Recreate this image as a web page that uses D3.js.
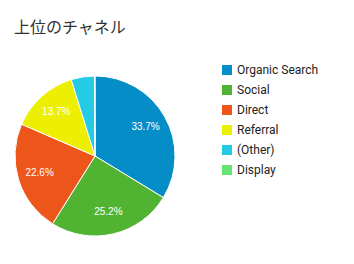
<!DOCTYPE html>
<html>
<head>
<meta charset="utf-8">
<script src="https://cdn.jsdelivr.net/npm/d3@7"></script>
<style>
  body { margin: 0; background: #fff; }
  svg { display: block; }
</style>
</head>
<body>
<svg id="chart" width="354" height="264"></svg>
<script>
const channels = ["Organic Search", "Social", "Direct", "Referral", "(Other)", "Display"];
const shares = [33.7, 25.2, 22.6, 13.7, 4.7, 0.1];
const colors = ["#058dc7", "#50b432", "#ed561b", "#edef00", "#24cbe5", "#64e572"];

const svg = d3.select("#chart");

svg.append("text")
  .attr("x", 14)
  .attr("y", 33)
  .attr("font-family", "'Noto Sans CJK JP', sans-serif")
  .attr("font-size", 16)
  .attr("fill", "#333")
  .text("上位のチャネル");

const cx = 95, cy = 156, radius = 80;
const data = channels.map((c, i) => ({ name: c, value: shares[i], color: colors[i] }));

const pie = d3.pie().sort(null).value(d => d.value);
const arc = d3.arc().innerRadius(0).outerRadius(radius);
const labelArc = d3.arc().innerRadius(radius * 0.45).outerRadius(radius);

const g = svg.append("g").attr("transform", `translate(${cx},${cy})`);
const arcs = pie(data);

g.selectAll("path.slice")
  .data(arcs)
  .enter()
  .append("path")
  .attr("class", "slice")
  .attr("d", arc)
  .attr("fill", d => d.data.color)
  .attr("stroke", "#fff")
  .attr("stroke-width", 1);

g.selectAll("text.pct")
  .data(arcs.filter(d => d.data.value >= 5))
  .enter()
  .append("text")
  .attr("class", "pct")
  .attr("transform", d => `translate(${labelArc.centroid(d)})`)
  .attr("text-anchor", "middle")
  .attr("dominant-baseline", "middle")
  .attr("font-family", "Arial, 'Liberation Sans', sans-serif")
  .attr("font-size", 10)
  .attr("fill", "#fff")
  .text(d => d.data.value.toFixed(1) + "%");

// legend
const legend = svg.append("g").attr("transform", "translate(222,70)");
const rows = legend.selectAll("g.item")
  .data(data)
  .enter()
  .append("g")
  .attr("class", "item")
  .attr("transform", (d, i) => `translate(0,${i * 20})`);

rows.append("rect")
  .attr("x", 0)
  .attr("y", -5)
  .attr("width", 10)
  .attr("height", 10)
  .attr("fill", d => d.color);

rows.append("text")
  .attr("x", 15)
  .attr("y", 0)
  .attr("dominant-baseline", "central")
  .attr("font-family", "Roboto, sans-serif")
  .attr("font-size", 12)
  .attr("fill", "#222")
  .text(d => d.name);
</script>
</body>
</html>
